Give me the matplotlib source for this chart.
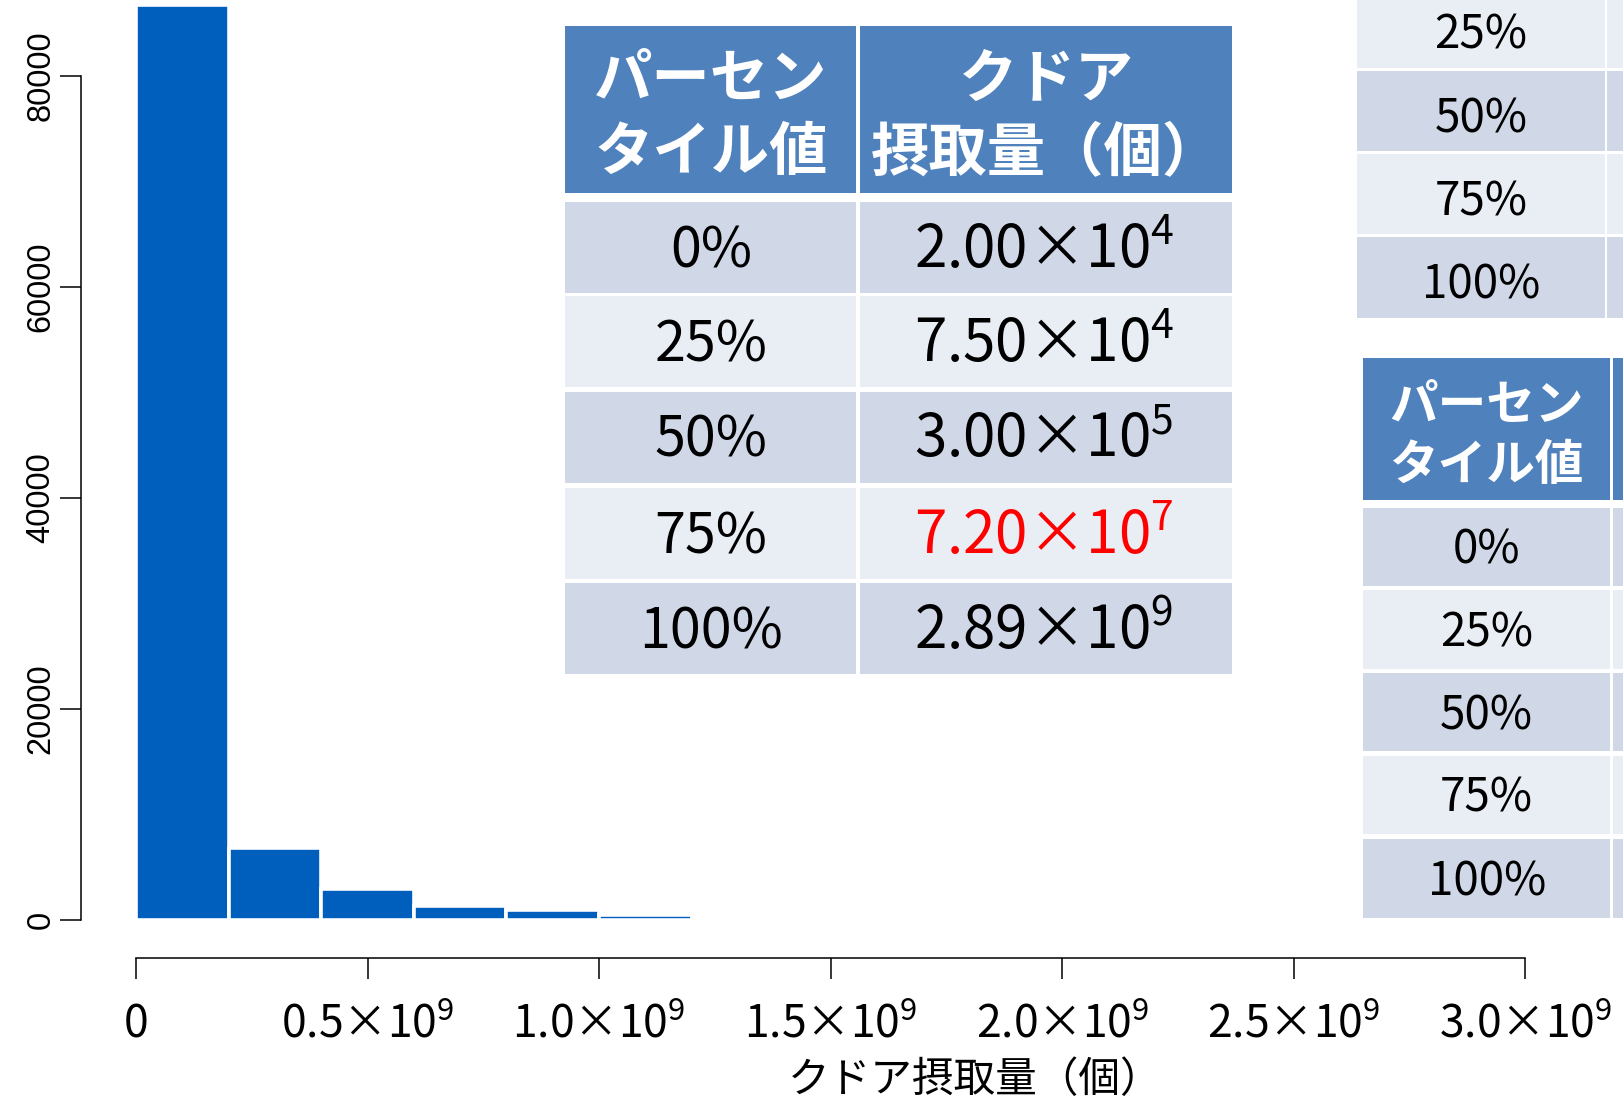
import matplotlib
matplotlib.use("Agg")
import matplotlib.pyplot as plt
from matplotlib.patches import Rectangle

# ---- histogram of intake counts ----
bin_edges = [0, 2e8, 4e8, 6e8, 8e8, 1.0e9, 1.2e9, 1.4e9, 1.6e9]
counts = [86700, 6800, 2900, 1280, 930, 450, 220, 90]

y_ticks = [0, 20000, 40000, 60000, 80000]
y_ticklabels = ["0", "20000", "40000", "60000", "80000"]
x_ticks = [0, 0.5e9, 1.0e9, 1.5e9, 2.0e9, 2.5e9, 3.0e9]
x_ticklabels = ["0",
                "0.5×$\\mathdefault{10^{9}}$",
                "1.0×$\\mathdefault{10^{9}}$",
                "1.5×$\\mathdefault{10^{9}}$",
                "2.0×$\\mathdefault{10^{9}}$",
                "2.5×$\\mathdefault{10^{9}}$",
                "3.0×$\\mathdefault{10^{9}}$"]
x_label = "クドア摂取量（個）"

# ---- percentile table ----
pct_header = ["パーセン", "タイル値"]
amount_header = ["クドア", "摂取量（個）"]
percentiles = ["0%", "25%", "50%", "75%", "100%"]
mantissas = ["2.00", "7.50", "3.00", "7.20", "2.89"]
exponents = [4, 4, 5, 7, 9]
highlighted = "75%"

CJK = "Noto Sans CJK JP"
NARROW = ["Liberation Sans Narrow", "Liberation Sans", "DejaVu Sans"]
BAR = "#005EBD"
HEAD = "#4F81BD"
DARK = "#D0D8E8"
LIGHT = "#E9EDF4"

W, H = 1624, 1101
fig = plt.figure(figsize=(W / 100, H / 100), dpi=100)

# histogram axes: x = 0 at px 136, 3e9 at px 1525; y = 0 at px 920, 80000 at px 75
x0_px, x1_px = 136.0, 1525.3
y0_px, y80_px = 920.0, 75.5
ax = fig.add_axes([x0_px / W, 1 - y0_px / H, (x1_px - x0_px) / W, y0_px / H])
ax.patch.set_alpha(0)
ax.set_xlim(0, 3e9)
ax.set_ylim(0, y0_px / (y0_px - y80_px) * 80000)

ax.bar(bin_edges[:-1], counts, width=[b - a for a, b in zip(bin_edges[:-1], bin_edges[1:])],
       align="edge", color=BAR, edgecolor="white", linewidth=2.6)

for s in ("top", "right"):
    ax.spines[s].set_visible(False)
ax.spines["left"].set_bounds(0, 80000)
ax.spines["bottom"].set_bounds(0, 3e9)
ax.spines["left"].set_position(("outward", 55 * 0.72))
ax.spines["bottom"].set_position(("outward", 38 * 0.72))
for s in ("left", "bottom"):
    ax.spines[s].set_linewidth(1.1)

ax.tick_params(axis="both", direction="out", length=15, width=1.1, color="black")
ax.set_yticks(y_ticks)
narrow_ok = any(f.name == "Liberation Sans Narrow"
                for f in matplotlib.font_manager.fontManager.ttflist)
ax.set_yticklabels(y_ticklabels, rotation=90, va="center", ha="right",
                   fontsize=27.8 if narrow_ok else 23.5, family=NARROW)
ax.tick_params(axis="y", pad=2.5)
ax.set_xticks(x_ticks)
ax.set_xticklabels(x_ticklabels, fontsize=32, family=CJK)
ax.tick_params(axis="x", pad=16)

fig.text(975 / W, 1 - 1080 / H, x_label, ha="center", va="center",
         fontsize=30, family=CJK, color="black")

# overlay in pixel coordinates for the tables
ov = fig.add_axes([0, 0, 1, 1], zorder=5)
ov.set_xlim(0, W)
ov.set_ylim(H, 0)
ov.axis("off")
ov.patch.set_alpha(0)


def cell(x, y, w, h, color):
    ov.add_patch(Rectangle((x, y), w, h, facecolor=color, edgecolor="none"))


def draw_table(cols, head_box, head_lines, head_size, row_tops, row_h, body_size,
               values=None, val_size=None, dy=5):
    (c1a, c1b), (c2a, c2b) = cols
    if head_box is not None:
        hy0, hy1 = head_box
        cell(c1a, hy0, c1b - c1a, hy1 - hy0, HEAD)
        cell(c2a, hy0, c2b - c2a, hy1 - hy0, HEAD)
        for lines, (ca, cb) in zip(head_lines, cols):
            for text, ly in lines:
                ov.text((ca + cb) / 2, ly, text, ha="center", va="center",
                        fontsize=head_size, family=CJK, fontweight="bold", color="white")
    for i, (p, top) in enumerate(zip(percentiles, row_tops)):
        col = DARK if i % 2 == 0 else LIGHT
        cell(c1a, top, c1b - c1a, row_h, col)
        cell(c2a, top, c2b - c2a, row_h, col)
        ov.text((c1a + c1b) / 2, top + row_h / 2 + dy, p, ha="center", va="center",
                fontsize=body_size, family=CJK, color="black")
        if values is not None:
            m, e = values[i]
            ov.text((c2a + c2b) / 2 - 2, top + row_h / 2 + dy,
                    m + "×$\\mathdefault{10^{%d}}$" % e, ha="center", va="center",
                    fontsize=val_size, family=CJK,
                    color="#FF0000" if p == highlighted else "black")


# main table
main_tops = [202, 296, 391.5, 488, 583]
draw_table(cols=[(565.5, 856.5), (860, 1232)],
           head_box=(26, 193),
           head_lines=[[(pct_header[0], 80), (pct_header[1], 153)],
                       [(amount_header[0], 80), (amount_header[1], 153)]],
           head_size=42, row_tops=main_tops, row_h=91, body_size=40,
           values=list(zip(mantissas, exponents)), val_size=42, dy=4)

# partially visible table at the top right
tr_tops = [70.7 + (i - 2) * 83.3 for i in range(5)]
draw_table(cols=[(1357, 1605), (1607.5, 1700)], head_box=None, head_lines=None,
           head_size=35, row_tops=tr_tops, row_h=80.3, body_size=33, dy=8)

# partially visible table at the bottom right
br_tops = [507.5, 590, 672.5, 755.5, 839]
draw_table(cols=[(1363, 1610.5), (1613, 1700)], head_box=(358, 499.5),
           head_lines=[[(pct_header[0], 405), (pct_header[1], 465)], []],
           head_size=35, row_tops=br_tops, row_h=78.5, body_size=33, dy=4)

fig.savefig("out.png", dpi=100)
